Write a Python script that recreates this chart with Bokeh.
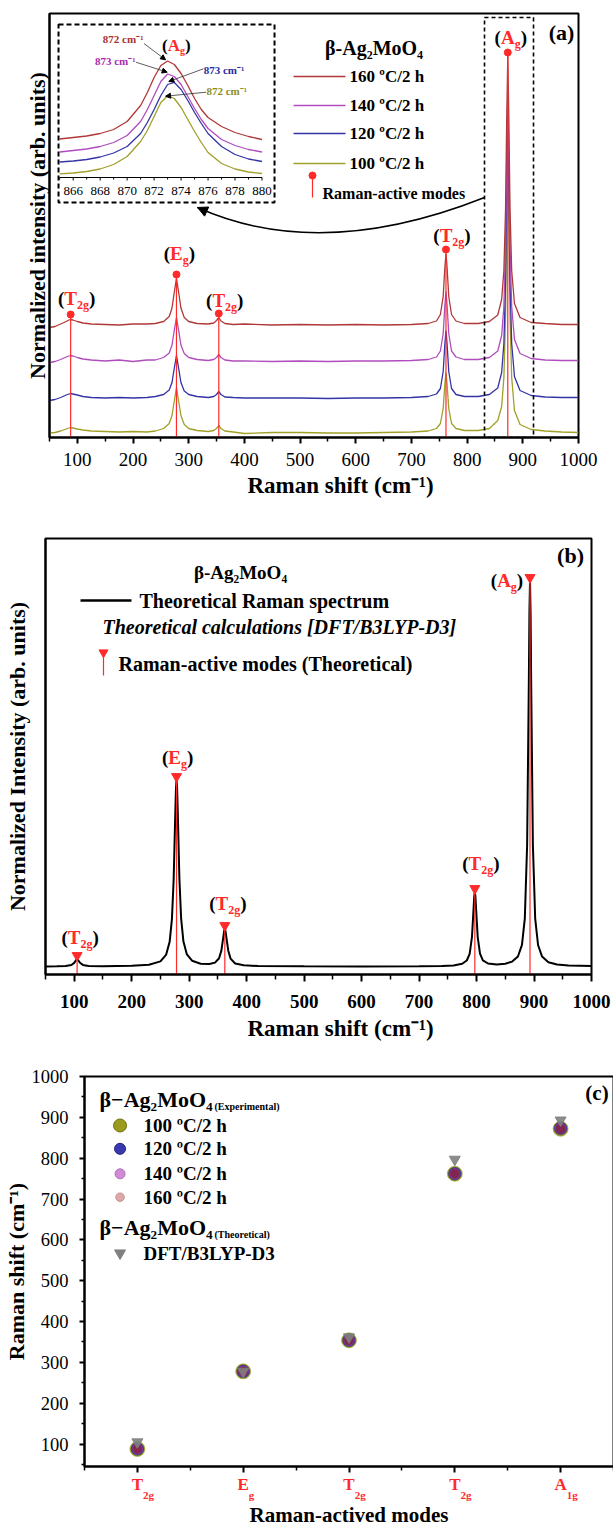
from bokeh.plotting import figure
from bokeh.models import Range1d, FixedTicker, ColumnDataSource, Arrow, NormalHead, LinearAxis, Title
from bokeh.core.properties import value
from bokeh.embed import file_html
from bokeh.resources import INLINE

SERIF = "Liberation Serif"
RED = "#FF2A2A"
C160, C140, C120, C100 = "#B03838", "#B04CBE", "#3434A6", "#A0A02A"

# ===================== DATA =====================
# ---- panel (a): experimental Raman spectra (stacked, arb. units) ----
shift_exp = [50, 60, 70, 80, 85, 88, 92, 100, 110, 125,
             150, 175, 200, 225, 240, 255, 265, 270, 274, 278,
             282, 286, 292, 300, 315, 335, 345, 350, 354, 358,
             365, 380, 400, 450, 500, 550, 600, 650, 700, 730,
             745, 752, 757, 760, 762, 764, 767, 772, 780, 795,
             820, 840, 855, 862, 866, 869, 871, 873, 875, 877,
             880, 885, 895, 915, 940, 970, 1000]
int_160 = [110, 111, 113.5, 116, 117.5, 118, 117.5, 116, 114.5, 113.5,
           113, 112.5, 113.5, 113.5, 114, 116, 121, 129.5, 145, 159,
           145, 129.5, 120, 116, 114, 113.5, 114.5, 117, 120, 116.5,
           114, 113, 113.5, 112.5, 113, 112.5, 113, 112.5, 113, 114,
           116.5, 123, 141, 170, 184, 170, 141, 123, 116.5, 114,
           114, 116, 122.5, 138, 167, 229, 315, 382, 315, 229,
           167, 134, 120, 115, 114, 113, 113]
int_140 = [75, 76, 78, 80.5, 81.5, 82, 81.5, 80, 78.5, 77.5,
           76.5, 77.5, 76, 77.5, 77.5, 80, 84.5, 92.5, 107, 120,
           107, 92.5, 84, 80, 78, 77, 78, 80, 83, 80,
           77.5, 76.5, 76.5, 76, 76.5, 76, 76.5, 76.5, 77, 78,
           80.5, 86.5, 104, 132, 146, 132, 104, 86.5, 80.5, 78,
           78, 80, 86.5, 102, 131, 193, 279, 346, 279, 193,
           131, 98, 84, 79, 77.5, 77, 77]
int_120 = [37, 38, 40, 42.5, 43.5, 44, 43.5, 42.5, 41, 40,
           39.5, 40, 39.5, 40, 41, 43, 47.5, 55, 69, 82,
           69, 55, 46.5, 43, 41, 40, 41, 43, 46, 43,
           40.5, 40, 39.5, 39.5, 39.5, 39, 39.5, 39.5, 40, 41,
           43.5, 49, 66, 93.5, 107, 93.5, 66, 49, 43, 41,
           41, 43, 49.5, 65, 94, 156, 242, 309, 242, 156,
           94, 61, 47, 42, 40.5, 40, 40]
int_100 = [4.5, 5, 6.5, 8.5, 9.5, 10, 9.5, 8.5, 7.5, 6.5,
           6, 5.5, 6, 5.5, 6.5, 9, 14, 22, 36, 50,
           36, 22, 13, 9, 7, 6, 7, 9, 12, 9,
           6.5, 5.5, 4, 5, 5, 4.5, 4.5, 5, 5.5, 6.5,
           9, 14, 29, 53, 65, 53, 29, 14, 9, 7,
           7, 9, 17, 31, 60, 122, 208, 275, 208, 122,
           60, 27, 13, 8, 6.5, 5.5, 5]
temp_labels = ["160 ºC/2 h", "140 ºC/2 h", "120 ºC/2 h", "100 ºC/2 h"]

exp_mode_shift = [88, 278, 354, 762, 873]
exp_mode_level = [123, 163, 124, 188, 385]
exp_mode_main = ["T", "E", "T", "T", "A"]
exp_mode_sub = ["2g", "g", "2g", "2g", "g"]

# inset (A_g region)
inset_shift = [865, 866, 867, 868, 869, 870, 871, 871.5, 872, 872.5, 873,
               873.5, 874, 874.5, 875, 875.5, 876, 877, 878, 879, 880]
inset_160 = [38.5, 40, 41.5, 44, 48, 56, 72, 85, 100, 112, 116.5,
             113, 104, 92, 79, 68, 60, 51, 45, 41, 38]
inset_140 = [25.5, 27, 28.5, 31, 35, 42, 56, 68, 82, 96, 103.5,
             101, 93, 81, 69, 58, 49, 38, 32, 28, 25.5]
inset_120 = [15.5, 16.5, 18, 20.5, 24.5, 31, 44, 55, 68, 82, 93,
             95, 88, 77, 65, 54, 44, 31, 23, 18.5, 16]
inset_100 = [3.7, 4.5, 6, 8.5, 13, 21, 36, 47, 61, 75, 81.5,
             79, 70, 58, 46, 35, 25, 14, 8.5, 5.5, 4]
inset_peak_text = ["872 cm⁻¹", "873 cm⁻¹", "873 cm⁻¹", "872 cm⁻¹"]
inset_tick_labels = [866, 868, 870, 872, 874, 876, 878, 880]

# ---- panel (b): theoretical spectrum ----
theo_shift = [50, 70, 85, 95, 100, 103, 105, 107, 110, 115,
              125, 150, 200, 230, 250, 260, 266, 270, 273, 276,
              277, 278, 279, 280, 283, 286, 290, 296, 305, 320,
              335, 345, 352, 356, 359, 361, 362, 363, 365, 368,
              372, 380, 395, 420, 500, 600, 700, 740, 760, 775,
              783, 788, 792, 795, 796, 797, 798, 799, 802, 806,
              811, 820, 835, 850, 862, 872, 879, 884, 888, 891,
              892, 893, 894, 895, 898, 902, 907, 914, 925, 940,
              960, 1000]
theo_int = [8.1, 8.2, 8.5, 9.5, 11.6, 14.2, 15.1, 14.2, 11.7, 9.6,
            8.6, 8.3, 8.7, 9.8, 13.1, 19.9, 32.7, 55.7, 95.3, 165.5,
            186.0, 194.1, 186.0, 165.6, 95.5, 55.9, 32.9, 20.1, 13.8, 10.8,
            10.5, 11.9, 16.2, 23.9, 35.9, 44.2, 45.6, 44.2, 35.8, 23.8,
            15.9, 11.0, 9.2, 8.5, 8.2, 8.1, 8.3, 8.6, 9.1, 10.7,
            14.0, 20.6, 37.3, 67.7, 78.1, 82.5, 78.1, 67.7, 37.4, 20.8,
            14.2, 11.0, 10.1, 10.8, 12.9, 18.0, 29.6, 56.2, 129.8, 294.0,
            362.3, 393.0, 362.3, 294.0, 129.8, 56.2, 29.5, 17.9, 12.3, 10.0,
            9.0, 8.4]
theo_mode_shift = [105, 278, 362, 797, 893]
theo_mode_level = [19, 198, 49, 86, 397]
theo_mode_main = ["T", "E", "T", "T", "A"]
theo_mode_sub = ["2g", "g", "2g", "2g", "g"]

# ---- panel (c): mode positions ----
mode_pos = [1, 2, 3, 4, 5]
mode_main_c = ["T", "E", "T", "T", "A"]
mode_sub_c = ["2g", "g", "2g", "2g", "1g"]
shift_100 = [88, 278, 354, 762, 872]
shift_120 = [88, 278, 354, 762, 873]
shift_140 = [88, 278, 354, 762, 873]
shift_160 = [88, 278, 354, 762, 872]
shift_dft = [105, 278, 362, 797, 893]
legend_c = ["100 ºC/2 h", "120 ºC/2 h", "140 ºC/2 h", "160 ºC/2 h"]

# ===================== HELPERS =====================
W_EM = {"T": 0.667, "E": 0.667, "A": 0.722}


def txt(size, color="black", style="bold", align="left", baseline="middle"):
    return dict(text_font=value(SERIF), text_font_size=value(f"{size}px"),
                text_font_style=style, text_color=color,
                text_align=align, text_baseline=baseline)


def mode_labels(p, xs, ys, mains, subs, big, small, shifts=None, **rng):
    n = len(xs)
    sh = list(shifts) if shifts else [0] * n
    wm = [W_EM[m] * big for m in mains]
    ws = [0.5 * len(s) * small for s in subs]
    src = ColumnDataSource(dict(
        x=xs, y=ys, main=mains, sub=subs, lp=["("] * n, rp=[")"] * n,
        o_m=sh,
        o_l=[o - w / 2 for o, w in zip(sh, wm)],
        o_s=[o + w / 2 for o, w in zip(sh, wm)],
        o_r=[o + w / 2 + v for o, w, v in zip(sh, wm, ws)],
        d_s=[0.32 * big] * n))
    p.text(x="x", y="y", text="lp", x_offset="o_l", source=src, **txt(big, align="right"), **rng)
    p.text(x="x", y="y", text="main", x_offset="o_m", source=src, **txt(big, RED, align="center"), **rng)
    p.text(x="x", y="y", text="sub", x_offset="o_s", y_offset="d_s", source=src, **txt(small, RED), **rng)
    p.text(x="x", y="y", text="rp", x_offset="o_r", source=src, **txt(big), **rng)


def style_fig(p):
    p.title.visible = False
    p.grid.visible = False
    p.outline_line_color = "black"
    p.outline_line_width = 2
    p.outline_line_alpha = 1
    p.background_fill_color = "white"
    p.border_fill_color = "white"
    for ax in p.axis:
        ax.axis_line_width = 2
        ax.axis_line_color = "black"
        ax.major_tick_line_width = 2
        ax.minor_tick_line_width = 1.5
        ax.major_tick_in = 0
        ax.minor_tick_in = 0
        ax.major_label_text_font = SERIF
        ax.major_label_text_color = "black"
        ax.axis_label_text_font = SERIF
        ax.axis_label_text_font_style = "bold"
        ax.axis_label_text_color = "black"


def no_ticks(ax):
    ax.ticker = FixedTicker(ticks=[])
    ax.major_tick_out = 0
    ax.minor_tick_out = 0
    ax.major_label_standoff = 0


def x_title(text, offset, standoff):
    return Title(text=text, align="left", offset=offset, standoff=standoff,
                 text_font=SERIF, text_font_size="23px", text_font_style="bold",
                 text_color="black")


SHIFT_TICKS = FixedTicker(ticks=list(range(100, 1001, 100)), minor_ticks=list(range(50, 1000, 100)))

# ===================== PANEL (a) =====================
pa = figure(frame_width=529, frame_height=424, min_border_left=49, min_border_right=35,
            min_border_top=13, min_border_bottom=73,
            x_range=Range1d(50, 1000), y_range=Range1d(0, 424),
            output_backend="svg", toolbar_location=None)
pa.extra_x_ranges = {"ix": Range1d(864.243, 903.47)}
pa.extra_y_ranges = {"iy": Range1d(-260, 164)}
style_fig(pa)
xa = pa.xaxis[0]
xa.ticker = SHIFT_TICKS
xa.major_tick_out = 6
xa.minor_tick_out = 4
xa.major_label_text_font_size = "19px"
xa.major_label_standoff = 9
ya = pa.yaxis[0]
no_ticks(ya)
ya.axis_label = "Normalized intensity (arb. units)"
ya.axis_label_text_font_size = "22px"
ya.axis_label_standoff = 0
pa.add_layout(x_title("Raman shift (cm⁻¹)", 198, 4), "below")

for ys, c in [(int_100, C100), (int_120, C120), (int_140, C140), (int_160, C160)]:
    pa.line(shift_exp, ys, line_color=c, line_width=1.3)

pa.segment(x0=exp_mode_shift, y0=[0] * 5, x1=exp_mode_shift, y1=exp_mode_level,
           line_color=RED, line_width=1.2)
pa.scatter(exp_mode_shift, exp_mode_level, size=7, color=RED)
mode_labels(pa, exp_mode_shift, [139, 184, 137, 202, 400], exp_mode_main, exp_mode_sub, 19, 12)

# inset
IR = dict(x_range_name="ix", y_range_name="iy")
for ys, c in [(inset_160, C160), (inset_140, C140), (inset_120, C120), (inset_100, C100)]:
    pa.line(inset_shift, ys, line_color=c, line_width=1.3, **IR)
pa.line([865, 880], [0, 0], line_color="black", line_width=1.2, **IR)
itk = list(range(865, 881))
pa.segment(x0=itk, y0=[0] * len(itk), x1=itk, y1=[-3 if t % 2 == 0 else -2 for t in itk],
           line_color="black", line_width=1, **IR)
pa.text(x=inset_tick_labels, y=[-13] * len(inset_tick_labels),
        text=[str(v) for v in inset_tick_labels], **txt(13, style="normal", align="center"), **IR)
pa.text(x=[871.21], y=[139], text=[inset_peak_text[0]], **txt(11, "#A83232", align="right"), **IR)
pa.text(x=[870.62], y=[117], text=[inset_peak_text[1]], **txt(11, "#A52BB0", align="right"), **IR)
pa.text(x=[875.68], y=[108], text=[inset_peak_text[2]], **txt(11, "#2A2A9E"), **IR)
pa.text(x=[875.88], y=[86.3], text=[inset_peak_text[3]], **txt(11, "#8E8E1A"), **IR)
for xs_, ys_, xe_, ye_ in [(871.25, 134, 872.85, 117.7), (870.65, 115.3, 872.97, 105.3),
                           (875.66, 108.7, 873.09, 96), (875.86, 85.3, 872.85, 81.3)]:
    pa.add_layout(Arrow(end=NormalHead(size=5, fill_color="black", line_color="black"),
                        x_start=xs_, y_start=ys_, x_end=xe_, y_end=ye_,
                        line_width=0.8, line_color="#333333", **IR))
mode_labels(pa, [873.46], [132], ["A"], ["g"], 17, 10, **IR)

# dashed boxes and curved arrow
pa.quad(left=[66.2], right=[454.1], bottom=[235], top=[413], fill_alpha=0,
        line_color="black", line_dash="5 3", line_width=2)
pa.quad(left=[831.2], right=[919.2], bottom=[0], top=[420], fill_alpha=0,
        line_color="black", line_dash="4 3", line_width=1.6)
pa.quadratic(x0=[831.2], y0=[240], x1=[315.8], y1=[230], cx=[536.7], cy=[175],
             line_color="black", line_width=1.5)
pa.add_layout(Arrow(end=NormalHead(size=10, fill_color="black", line_color="black"),
                    x_start=329.1, y_start=226.7, x_end=315.8, y_end=230, line_alpha=0))

# legend (a)
pa.text(x=[632.8], y=[390], text=["β-Ag₂MoO₄"], **txt(20, align="center"))
leg_y = [361, 332, 304, 274]
pa.segment(x0=[488.2] * 4, y0=leg_y, x1=[581.6] * 4, y1=leg_y,
           line_color=[C160, C140, C120, C100], line_width=1.6)
pa.text(x=[588.8] * 4, y=leg_y, text=temp_labels, **txt(17))
pa.segment(x0=[522.3], y0=[240], x1=[522.3], y1=[262], line_color=RED, line_width=1.2)
pa.scatter([522.3], [262], size=7, color=RED)
pa.text(x=[540.3], y=[244], text=["Raman-active modes"], **txt(16))
pa.text(x=[969.5], y=[405], text=["(a)"], **txt(22, align="center"))

# ===================== PANEL (b) =====================
pb = figure(frame_width=546, frame_height=436, min_border_left=45, min_border_right=22,
            min_border_top=28, min_border_bottom=76,
            x_range=Range1d(50, 1000), y_range=Range1d(0, 436),
            output_backend="svg", toolbar_location=None)
style_fig(pb)
xb = pb.xaxis[0]
xb.ticker = SHIFT_TICKS
xb.major_tick_out = 7
xb.minor_tick_out = 5
xb.major_label_text_font_size = "19px"
xb.major_label_text_font_style = "bold"
xb.major_label_standoff = 13
yb = pb.yaxis[0]
no_ticks(yb)
yb.axis_label = "Normalized Intensity (arb. units)"
yb.axis_label_text_font_size = "22px"
yb.axis_label_standoff = 16
pb.add_layout(x_title("Raman shift (cm⁻¹)", 202, 7), "below")

pb.line(theo_shift, theo_int, line_color="black", line_width=2)
pb.segment(x0=theo_mode_shift, y0=[0] * 5, x1=theo_mode_shift, y1=theo_mode_level,
           line_color=RED, line_width=1.2)
pb.scatter(theo_mode_shift, theo_mode_level, marker="inverted_triangle", size=10, color=RED)
mode_labels(pb, theo_mode_shift, [37, 217, 71, 111, 394], theo_mode_main, theo_mode_sub,
            19, 12, shifts=[-3, -2, -3, 0, -26])

pb.text(x=[389.3], y=[402], text=["β-Ag₂MoO₄"], **txt(19, align="center"))
pb.segment(x0=[110.9], y0=[374], x1=[199.6], y1=[374], line_color="black", line_width=2.5)
pb.text(x=[213.6], y=[374], text=["Theoretical Raman spectrum"], **txt(20))
pb.text(x=[149.2], y=[348], text=["Theoretical calculations [DFT/B3LYP-D3]"],
        **txt(20, style="bold italic"))
pb.segment(x0=[150.9], y0=[299], x1=[150.9], y1=[322], line_color=RED, line_width=1.2)
pb.scatter([150.9], [322], marker="inverted_triangle", size=9, color=RED)
pb.text(x=[177.0], y=[311], text=["Raman-active modes (Theoretical)"], **txt(20))
pb.text(x=[963.5], y=[419], text=["(b)"], **txt(22, align="center"))

# ===================== PANEL (c) =====================
CAT_PX = 105.8          # screen width of one category
MAIN_PX, SUB_PX = 17, 11
BASE_SHIFT = 11.5       # px the subscript axis is shifted right
pc = figure(frame_width=529, frame_height=390, min_border_left=82, min_border_right=2,
            min_border_top=26, min_border_bottom=58,
            x_range=Range1d(0.5, 5.5), y_range=Range1d(45, 1000),
            output_backend="svg", toolbar_location=None)
pc.extra_x_ranges = {"sub": Range1d(0.5 - BASE_SHIFT / CAT_PX, 5.5 - BASE_SHIFT / CAT_PX)}
style_fig(pc)
xc = pc.xaxis[0]
xc.ticker = FixedTicker(ticks=mode_pos, minor_ticks=[0.5, 1.5, 2.5, 3.5, 4.5, 5.5])
xc.major_tick_out = 6
xc.minor_tick_out = 4
xc.major_label_overrides = dict(zip(mode_pos, mode_main_c))
xc.major_label_text_color = RED
xc.major_label_text_font_style = "bold"
xc.major_label_text_font_size = f"{MAIN_PX}px"
xc.major_label_standoff = 2
sub_ticks = [c + ((W_EM[m] * MAIN_PX + 0.5 * len(s) * SUB_PX) / 2 - BASE_SHIFT) / CAT_PX
             for c, m, s in zip(mode_pos, mode_main_c, mode_sub_c)]
sub_ax = LinearAxis(x_range_name="sub", ticker=FixedTicker(ticks=sub_ticks),
                    major_label_overrides=dict(zip(sub_ticks, mode_sub_c)),
                    axis_line_color=None, major_tick_out=0, minor_tick_out=0,
                    major_tick_in=0, minor_tick_in=0,
                    major_label_standoff=-8, major_label_text_font=SERIF,
                    major_label_text_font_size=f"{SUB_PX}px", major_label_text_font_style="bold",
                    major_label_text_color=RED,
                    axis_label="Raman-actived modes", axis_label_text_font=SERIF,
                    axis_label_text_font_size="21px", axis_label_text_font_style="bold",
                    axis_label_text_color="black", axis_label_standoff=-1)
pc.add_layout(sub_ax, "below")
yc = pc.yaxis[0]
yc.ticker = FixedTicker(ticks=list(range(100, 1001, 100)), minor_ticks=list(range(50, 1000, 100)))
yc.major_tick_out = 5
yc.minor_tick_out = 3
yc.major_label_text_font_size = "18.5px"
yc.major_label_standoff = 11
yc.axis_label = "Raman shift (cm⁻¹)"
yc.axis_label_text_font_size = "22px"
yc.axis_label_standoff = 0

for ys, c, sz, a in [(shift_100, "#9B9B1E", 15, 1.0), (shift_120, "#2E2E9E", 12.5, 1.0),
                     (shift_140, "#9A3FA0", 10.5, 0.9), (shift_160, "#7E2448", 9, 0.9)]:
    pc.scatter(mode_pos, ys, size=sz, fill_color=c, fill_alpha=a, line_color=c, line_alpha=0.6)
pc.scatter(mode_pos, shift_dft, marker="inverted_triangle", size=11, color="#808080", alpha=0.9)

# legend (c)
pc.text(x=[0.642], y=[943.7], text=["β−Ag₂MoO₄"], **txt(22))
pc.text(x=[1.729], y=[926.5], text=["(Experimental)"], **txt(10))
leg_c_y = [880.0, 822.9, 761.7, 704.4]
pc.scatter([0.836] * 4, leg_c_y, size=[13, 11, 10, 8.5],
           fill_color=["#9B9B1E", "#3A3AAE", "#D08AD6", "#DCA8A8"],
           line_color=["#6F6F10", "#22227A", "#B070B8", "#C89090"])
pc.text(x=[1.058] * 4, y=leg_c_y, text=legend_c, **txt(19))
pc.text(x=[0.642], y=[631.0], text=["β−Ag₂MoO₄"], **txt(22))
pc.text(x=[1.729], y=[613.1], text=["(Theoretical)"], **txt(10))
pc.scatter([0.836], [567.5], marker="inverted_triangle", size=11, color="#808080")
pc.text(x=[1.058], y=[567.5], text=["DFT/B3LYP-D3"], **txt(19))
pc.text(x=[5.344], y=[958.4], text=["(c)"], **txt(21, align="center"))

open("out.html", "w").write(file_html([pa, pb, pc], INLINE))
